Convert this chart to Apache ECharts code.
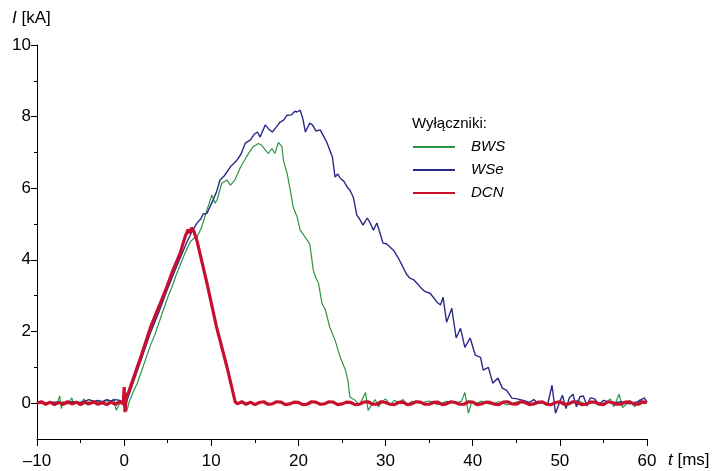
<!DOCTYPE html>
<html>
<head>
<meta charset="utf-8">
<script src="https://cdn.jsdelivr.net/npm/echarts@6/dist/echarts.min.js"></script>
<style>
html, body { margin: 0; padding: 0; background: #fff; }
#chart { width: 716px; height: 471px; }
</style>
</head>
<body>
<div id="chart"></div>
<script>
var bws = [
  [-10, 0], [-9.5, 0.02], [-9, -0.03], [-8.5, 0.03], [-8, 0], [-7.6, 0.05], [-7.4, 0.2], [-7.2, -0.15],
  [-7, 0.05], [-6.5, -0.03], [-6, 0.15], [-5.8, -0.05], [-5.5, 0.05], [-5, -0.02], [-4.6, 0.12], [-4.3, -0.05],
  [-4, 0.04], [-3.5, 0], [-3, 0.06], [-2.5, -0.02], [-2, 0.08], [-1.6, 0], [-1.2, 0.12], [-0.9, -0.2],
  [-0.6, -0.05], [-0.3, 0.05], [0, -0.1], [0.3, -0.22], [0.6, 0.05], [1, 0.3], [1.5, 0.55], [2, 0.9],
  [2.5, 1.25], [3, 1.6], [3.5, 1.9], [4, 2.25], [4.5, 2.6], [5, 2.95], [5.5, 3.25], [6, 3.6],
  [6.5, 3.9], [7, 4.2], [7.57, 4.5], [8, 4.6], [8.34, 4.62], [8.9, 4.92], [9.5, 5.39], [10.06, 5.81],
  [10.44, 5.58], [10.7, 5.7], [11.2, 6.14], [11.8, 6.23], [12.2, 6.09], [12.7, 6.23], [13.3, 6.56], [13.7, 6.74],
  [14.3, 6.98], [14.8, 7.16], [15.4, 7.25], [15.8, 7.2], [16.2, 7.07], [16.56, 6.97], [16.95, 7.11], [17.3, 6.97],
  [17.7, 7.28], [18.1, 7.16], [18.3, 6.75], [18.7, 6.42], [19.1, 5.9], [19.4, 5.47], [19.85, 5.2], [20.2, 4.83],
  [20.6, 4.7], [21, 4.55], [21.3, 4.45], [21.7, 3.72], [22, 3.5], [22.3, 3.35], [22.7, 2.79], [23.1, 2.6],
  [23.6, 2.12], [24.2, 1.76], [24.8, 1.28], [25.4, 0.92], [25.7, 0.6], [25.9, 0.17], [26.5, 0.08], [27, -0.05],
  [27.4, 0.15], [27.7, 0.3], [28, -0.2], [28.4, -0.05], [28.8, 0.1], [29.2, -0.1], [29.6, 0.05], [30, 0.12],
  [30.5, -0.05], [31, 0.08], [31.5, 0.02], [32, 0.1], [32.5, -0.05], [33, 0.05], [34, 0], [35, 0.06],
  [36, -0.04], [37, 0.05], [38, 0], [38.7, 0.05], [39.1, 0.3], [39.5, -0.28], [39.9, 0.05], [40.5, 0],
  [41, 0.06], [42, -0.03], [43, 0.04], [44, -0.05], [45, 0.03], [46, 0.05], [47, -0.04], [48, 0.02],
  [49, -0.03], [50, 0.05], [51, -0.05], [52, 0.08], [53, -0.03], [54, 0.05], [55, -0.04], [55.8, 0.12],
  [56.2, -0.1], [56.8, 0.25], [57.2, -0.12], [58, 0.05], [58.6, -0.1], [59.2, 0.1], [59.6, -0.02], [60, 0.05]
];
var wse = [
  [-10, 0.02], [-9, 0], [-8, 0.03], [-7, 0.01], [-6, 0.04], [-5, 0.02], [-4.5, 0.06], [-4, 0.1],
  [-3.5, 0.05], [-3, 0.08], [-2.5, 0.04], [-2, 0.1], [-1.5, 0.06], [-1, 0.1], [-0.5, 0.08], [0, 0.02],
  [0.3, 0.05], [1, 0.55], [2, 1.25], [3, 1.95], [4, 2.55], [5, 3.2], [6, 3.8], [6.6, 4.15],
  [7.2, 4.5], [7.8, 4.8], [8.34, 5.02], [8.8, 5.15], [9.07, 5.28], [9.5, 5.3], [10.2, 5.67], [10.6, 5.9],
  [11, 6.23], [11.5, 6.35], [12.2, 6.6], [12.97, 6.79], [13.4, 6.95], [13.9, 7.26], [14.5, 7.35], [14.9, 7.5],
  [15.3, 7.57], [15.6, 7.43], [16.2, 7.77], [16.6, 7.65], [17, 7.57], [17.5, 7.72], [17.9, 7.85], [18.3, 7.9],
  [18.7, 8.04], [19.2, 8.05], [19.6, 8.15], [19.85, 8.13], [20.2, 8.18], [20.5, 7.95], [20.8, 7.57], [21.3, 7.82],
  [21.6, 7.77], [22, 7.6], [22.5, 7.63], [22.9, 7.45], [23.3, 7.26], [23.9, 6.87], [24.2, 6.31], [24.5, 6.4],
  [24.8, 6.28], [25.2, 6.2], [25.6, 6.03], [25.9, 5.95], [26.3, 5.75], [26.7, 5.25], [27, 5.15], [27.4, 4.97],
  [27.9, 5.17], [28.2, 5.05], [28.6, 4.83], [29, 5.03], [29.3, 4.8], [29.7, 4.47], [30.1, 4.45], [30.5, 4.36],
  [30.9, 4.27], [31.4, 4.08], [32, 3.8], [32.4, 3.6], [32.8, 3.49], [33.2, 3.45], [33.6, 3.35], [34, 3.24],
  [34.5, 3.12], [35.1, 3.07], [35.5, 2.95], [35.9, 2.82], [36.3, 2.74], [36.6, 2.96], [37, 2.26], [37.6, 2.65],
  [38.1, 1.82], [38.6, 2.09], [39.1, 1.56], [39.7, 1.82], [40.3, 1.34], [40.9, 1.28], [41.2, 0.92], [41.8, 1],
  [42.3, 0.56], [42.9, 0.7], [43.4, 0.42], [43.9, 0.36], [44.5, 0.14], [45.1, 0.12], [45.8, 0.08], [46.5, 0.02],
  [47, 0.1], [47.5, 0], [48, 0.06], [48.6, -0.03], [49.1, 0.5], [49.5, -0.28], [50, 0.05], [50.3, 0.22],
  [50.7, -0.15], [51.1, 0.15], [51.5, 0.25], [51.9, -0.1], [52.3, 0.18], [52.7, 0.2], [53.1, -0.08], [53.5, 0.15],
  [54, 0.12], [54.5, -0.05], [55, 0.08], [56, 0], [57, 0.04], [58, -0.02], [59, 0.05], [59.7, 0.15], [60, 0.02]
];
var dcn = [
  [-10, 0], [-9.5, 0.04], [-9, -0.03], [-8.5, 0.03], [-8, -0.04], [-7.5, 0.02], [-7, -0.03], [-6.5, 0.04],
  [-6, -0.02], [-5.5, 0.03], [-5, -0.04], [-4.5, 0.03], [-4, -0.02], [-3.5, 0.04], [-3, -0.03], [-2.5, 0.02],
  [-2, -0.04], [-1.5, 0.03], [-1, -0.03], [-0.5, 0.04], [-0.1, -0.02], [0, 0.45], [0.1, -0.25], [0.25, 0.2],
  [0.5, 0.3], [1, 0.65], [2, 1.35], [3, 2.1], [4, 2.7], [4.9, 3.25], [5.5, 3.65], [6.43, 4.19],
  [7, 4.65], [7.35, 4.85], [7.5, 4.75], [7.77, 4.9], [8, 4.8], [8.34, 4.55], [9.5, 3.35], [10.6, 2.13],
  [11.8, 1.01], [12.74, 0.04], [13, -0.02], [13.5, 0.04], [14, -0.03], [14.5, 0.03], [15, -0.04], [15.5, 0.02],
  [16, 0.04], [16.5, -0.03], [17, -0.02], [17.5, 0.04], [18, 0.03], [18.5, -0.04], [19, -0.02], [19.5, 0.03],
  [20, 0.02], [20.5, -0.04], [21, -0.03], [21.5, 0.04], [22, 0.03], [22.5, -0.03], [23, -0.02], [23.5, 0.04],
  [24, 0.03], [24.5, -0.04], [25, -0.02], [25.5, 0.03], [26, 0.02], [26.5, -0.04], [27, -0.03], [27.5, 0.03],
  [28, 0.04], [28.5, -0.03], [29, -0.03], [29.5, 0.04], [30, 0.02], [30.5, -0.03], [31, -0.04], [31.5, 0.02],
  [32, 0.03], [32.5, -0.04], [33, -0.02], [33.5, 0.04], [34, 0.03], [34.5, -0.03], [35, -0.03], [35.5, 0.02],
  [36, 0.03], [36.5, -0.04], [37, -0.02], [37.5, 0.04], [38, 0.02], [38.5, -0.03], [39, -0.03], [39.5, 0.04],
  [40, 0.03], [40.5, -0.04], [41, -0.02], [41.5, 0.03], [42, 0.02], [42.5, -0.03], [43, -0.04], [43.5, 0.03],
  [44, 0.04], [44.5, -0.02], [45, -0.03], [45.5, 0.04], [46, 0.02], [46.5, -0.04], [47, -0.02], [47.5, 0.03],
  [48, 0.03], [48.5, -0.03], [49, -0.04], [49.5, 0.02], [50, 0.04], [50.5, -0.03], [51, -0.02], [51.5, 0.04],
  [52, 0.02], [52.5, -0.04], [53, -0.03], [53.5, 0.03], [54, 0.03], [54.5, -0.02], [55, -0.04], [55.5, 0.04],
  [56, 0.02], [56.5, -0.03], [57, -0.03], [57.5, 0.03], [58, 0.04], [58.5, -0.02], [59, -0.03], [59.5, 0.04],
  [60, 0.02]
];

var seriesNames = ['BWS', 'WSe', 'DCN'];
var seriesData = [bws, wse, dcn];
var seriesColors = ['#2e9445', '#2b2a8a', '#c8102e'];
var seriesWidths = [1.2, 1.4, 3.2];

var tRange = [-10, 60];   // oś czasu
var iRange = [-1, 10];    // oś prądu
var iLabelRange = [0, 10];

var chart = echarts.init(document.getElementById('chart'), null, { renderer: 'canvas' });

var series = [];
for (var k = 0; k < seriesNames.length; k++) {
  series.push({
    name: seriesNames[k],
    type: 'line',
    xAxisIndex: 0,
    yAxisIndex: 0,
    data: seriesData[k],
    showSymbol: false,
    symbol: 'none',
    color: seriesColors[k],
    lineStyle: { color: seriesColors[k], width: seriesWidths[k] },
    emphasis: { disabled: true }
  });
}

var option = {
  animation: false,
  backgroundColor: '#fff',
  textStyle: { fontFamily: 'Liberation Sans, Arial, sans-serif' },
  grid: [
    { left: 37, right: 69, top: 45, bottom: 32 },
    { left: 37, right: 69, top: 45, bottom: 68 }
  ],
  xAxis: [
    {
      gridIndex: 0, type: 'value', min: tRange[0], max: tRange[1], interval: 10,
      axisLine: { show: true, onZero: false, lineStyle: { color: '#000', width: 1 } },
      axisTick: { show: true, length: 7, lineStyle: { color: '#000' } },
      minorTick: { show: true, splitNumber: 2, length: 4, lineStyle: { color: '#000' } },
      axisLabel: {
        margin: 14, color: '#000', fontSize: 17,
        formatter: function (v) { return String(v).replace('-', '–'); }
      },
      splitLine: { show: false }
    },
    { gridIndex: 1, type: 'value', min: tRange[0], max: tRange[1], show: false }
  ],
  yAxis: [
    {
      gridIndex: 0, type: 'value', min: iRange[0], max: iRange[1],
      axisLine: { show: true, onZero: false, lineStyle: { color: '#000', width: 1 } },
      axisTick: { show: false },
      axisLabel: { show: false },
      splitLine: { show: false }
    },
    {
      gridIndex: 1, type: 'value', min: iLabelRange[0], max: iLabelRange[1], interval: 2,
      axisLine: { show: false, onZero: false },
      axisTick: { show: true, length: 6, lineStyle: { color: '#000' } },
      minorTick: { show: true, splitNumber: 2, length: 3, lineStyle: { color: '#000' } },
      axisLabel: { margin: 6, color: '#000', fontSize: 17 },
      splitLine: { show: false }
    }
  ],
  legend: {
    data: seriesNames,
    orient: 'vertical',
    left: 413,
    top: 139,
    padding: 0,
    icon: 'rect',
    itemWidth: 42,
    itemHeight: 2,
    itemGap: 7,
    selectedMode: false,
    textStyle: { fontSize: 15, fontStyle: 'italic', color: '#000', lineHeight: 16, padding: [0, 0, 0, 11] }
  },
  graphic: [
    {
      type: 'text', left: 12, top: 10,
      style: {
        text: '{i|I} [kA]',
        fill: '#000',
        font: '17px Liberation Sans, Arial, sans-serif',
        rich: { i: { fontStyle: 'italic', fontSize: 17, fill: '#000' } }
      }
    },
    {
      type: 'text', left: 668, top: 452,
      style: {
        text: '{i|t} [ms]',
        fill: '#000',
        font: '17px Liberation Sans, Arial, sans-serif',
        rich: { i: { fontStyle: 'italic', fontSize: 17, fill: '#000' } }
      }
    },
    {
      type: 'text', left: 412, top: 116,
      style: { text: 'Wyłączniki:', fill: '#000', font: '15px Liberation Sans, Arial, sans-serif' }
    }
  ],
  series: series
};

chart.setOption(option);
</script>
</body>
</html>
